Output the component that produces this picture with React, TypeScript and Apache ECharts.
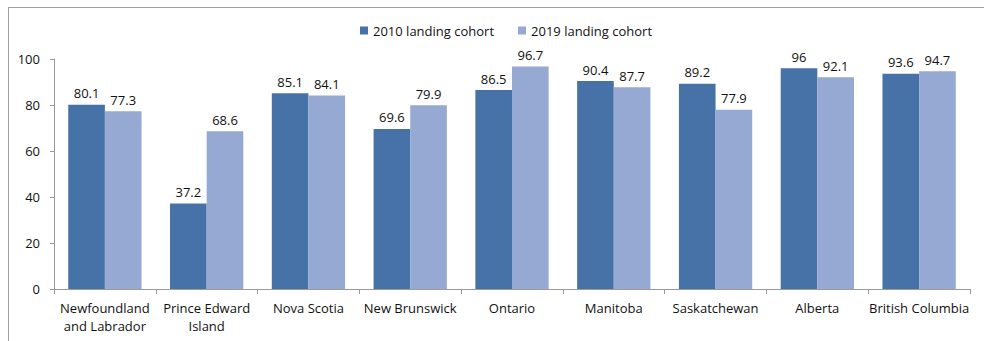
import React, { useEffect, useRef } from "react";
import * as echarts from "echarts";

const categories = [
  "Newfoundland\nand Labrador",
  "Prince Edward\nIsland",
  "Nova Scotia",
  "New Brunswick",
  "Ontario",
  "Manitoba",
  "Saskatchewan",
  "Alberta",
  "British Columbia",
];
const cohort2010 = [80.1, 37.2, 85.1, 69.6, 86.5, 90.4, 89.2, 96, 93.6];
const cohort2019 = [77.3, 68.6, 84.1, 79.9, 96.7, 87.7, 77.9, 92.1, 94.7];
const yTicks = { min: 0, max: 100, interval: 20 };

const FONT = "'Open Sans', sans-serif";

export default function App() {
  const ref = useRef<HTMLDivElement>(null);
  useEffect(() => {
    if (!ref.current) return;
    const chart = echarts.init(ref.current, undefined, { renderer: "svg" });
    const label = {
      show: true,
      position: "top",
      distance: 5,
      color: "#111",
      fontSize: 13,
      fontFamily: FONT,
    };
    chart.setOption({
      animation: false,
      textStyle: { fontFamily: FONT },
      legend: {
        top: 19,
        left: 355,
        itemWidth: 8,
        itemHeight: 8,
        itemGap: 24,
        icon: "rect",
        textStyle: { fontSize: 13, color: "#111", fontFamily: FONT },
        data: ["2010 landing cohort", "2019 landing cohort"],
      },
      grid: { left: 54, right: 14, top: 59, bottom: 52, containLabel: false },
      xAxis: {
        type: "category",
        data: categories,
        axisLine: { lineStyle: { color: "#9a9a9a" } },
        axisTick: { show: true, length: 5, lineStyle: { color: "#9a9a9a" } },
        axisLabel: {
          color: "#111",
          fontSize: 13,
          margin: 10,
          lineHeight: 18,
          interval: 0,
          fontFamily: FONT,
        },
      },
      yAxis: {
        type: "value",
        min: yTicks.min,
        max: yTicks.max,
        interval: yTicks.interval,
        axisLine: { show: true, lineStyle: { color: "#9a9a9a" } },
        axisTick: { show: true, length: 4, lineStyle: { color: "#9a9a9a" } },
        splitLine: { show: false },
        axisLabel: { color: "#111", fontSize: 13, margin: 14, fontFamily: FONT },
      },
      series: [
        {
          name: "2010 landing cohort",
          type: "bar",
          data: cohort2010,
          barGap: "0%",
          barCategoryGap: "28%",
          itemStyle: { color: "#4672A8" },
          label,
        },
        {
          name: "2019 landing cohort",
          type: "bar",
          data: cohort2019,
          itemStyle: { color: "#95A9D2" },
          label,
        },
      ],
    });
    return () => chart.dispose();
  }, []);
  return (
    <div
      style={{
        position: "absolute",
        left: 8,
        top: 7,
        width: 976,
        height: 334,
        borderLeft: "1px solid #a0a0a0",
        borderTop: "1px solid #a0a0a0",
        boxSizing: "border-box",
        background: "#fff",
      }}
    >
      <div
        ref={ref}
        style={{ position: "absolute", left: -9, top: -8, width: 984, height: 341 }}
      />
    </div>
  );
}
